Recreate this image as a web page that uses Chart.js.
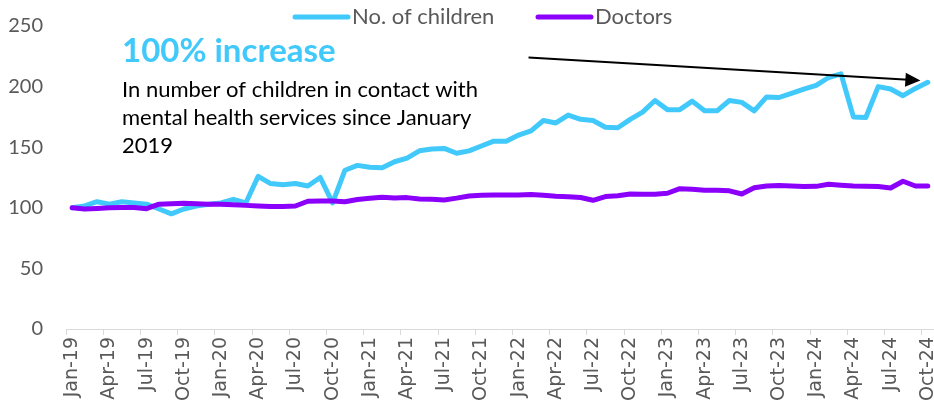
<!DOCTYPE html>
<html>
<head>
<meta charset="utf-8">
<script src="https://cdn.jsdelivr.net/npm/chart.js@4"></script>
<style>
  html, body { margin: 0; padding: 0; background: #fff; }
  #wrap { width: 934px; height: 411px; position: relative; }
</style>
</head>
<body>
<div id="wrap"><canvas id="lineChartCanvas"></canvas></div>
<script>
// months, Jan-19 .. Oct-24
var categories = [
  'Jan-19','Feb-19','Mar-19','Apr-19','May-19','Jun-19','Jul-19','Aug-19','Sep-19','Oct-19','Nov-19','Dec-19',
  'Jan-20','Feb-20','Mar-20','Apr-20','May-20','Jun-20','Jul-20','Aug-20','Sep-20','Oct-20','Nov-20','Dec-20',
  'Jan-21','Feb-21','Mar-21','Apr-21','May-21','Jun-21','Jul-21','Aug-21','Sep-21','Oct-21','Nov-21','Dec-21',
  'Jan-22','Feb-22','Mar-22','Apr-22','May-22','Jun-22','Jul-22','Aug-22','Sep-22','Oct-22','Nov-22','Dec-22',
  'Jan-23','Feb-23','Mar-23','Apr-23','May-23','Jun-23','Jul-23','Aug-23','Sep-23','Oct-23','Nov-23','Dec-23',
  'Jan-24','Feb-24','Mar-24','Apr-24','May-24','Jun-24','Jul-24','Aug-24','Sep-24','Oct-24'
];

// index, Jan-19 = 100
var children = [
  100, 101.5, 105, 103, 105, 104, 103, 99, 95, 99, 101.5, 103,
  104, 107, 104, 126, 120, 119, 120, 118, 125, 104, 131, 135,
  133.5, 133, 138, 141, 147, 148.5, 149, 145, 147, 151, 155, 155,
  160, 163.5, 172, 170, 176.5, 173, 172, 166.5, 166, 173, 179, 188.5,
  181, 181, 188, 180, 180, 188.5, 187, 180, 191.5, 191, 194.5, 198,
  201, 207.5, 210.5, 175, 174.5, 200, 198, 192.5, 198.5, 203.5
];
var doctors = [
  100, 99, 99.5, 100, 100.3, 100.3, 99.3, 103, 103.4, 103.7, 103.4, 103,
  103, 102.6, 102, 101.5, 101, 101, 101.5, 105.4, 105.7, 105.7, 105, 106.8,
  107.8, 108.7, 108, 108.4, 107.3, 107, 106.5, 108, 109.8, 110.3, 110.6, 110.6,
  110.6, 110.9, 110.3, 109.5, 109.2, 108.5, 106.2, 109.3, 110, 111.4, 111.2, 111.2,
  112, 115.8, 115.4, 114.5, 114.5, 114, 111.4, 116.6, 118, 118.3, 118, 117.5,
  117.7, 119.4, 118.6, 118, 117.7, 117.5, 116.4, 121.9, 118, 118
];
var yTicks = [0, 50, 100, 150, 200, 250];

var headline = '100% increase';
var noteLines = ['In number of children in contact with', 'mental health services since January', '2019'];
// arrow ends in data space (category index, value)
var arrowFrom = [36.8, 224];
var arrowTo = [68.4, 205];

var blue = '#41C9FB';
var purple = '#8B00FB';
var grey = '#595959';

// legend + text box + arrow
var extras = {
  id: 'extras',
  afterDraw: function (chart) {
    var ctx = chart.ctx;
    var xs = chart.scales.x, ys = chart.scales.y;
    ctx.save();

    // legend
    var legendX = [295, 538];
    ctx.font = '22px Lato';
    ctx.textBaseline = 'middle';
    chart.data.datasets.forEach(function (ds, i) {
      var lx = legendX[i];
      ctx.strokeStyle = ds.borderColor;
      ctx.lineWidth = 5;
      ctx.lineCap = 'round';
      ctx.beginPath();
      ctx.moveTo(lx, 17);
      ctx.lineTo(lx + 53, 17);
      ctx.stroke();
      ctx.fillStyle = grey;
      ctx.fillText(ds.label, lx + 57, 17);
    });

    // text box
    var tx = chart.chartArea.left + 56;
    ctx.textBaseline = 'alphabetic';
    ctx.fillStyle = blue;
    ctx.font = 'bold 33px Lato';
    ctx.fillText(headline, tx, 62);
    ctx.fillStyle = '#000';
    ctx.font = '22px Lato';
    noteLines.forEach(function (t, i) {
      ctx.fillText(t, tx, 97 + i * 28);
    });

    // arrow
    var x1 = xs.getPixelForValue(arrowFrom[0]), y1 = ys.getPixelForValue(arrowFrom[1]);
    var x2 = xs.getPixelForValue(arrowTo[0]), y2 = ys.getPixelForValue(arrowTo[1]);
    var ang = Math.atan2(y2 - y1, x2 - x1);
    ctx.strokeStyle = '#000';
    ctx.lineWidth = 2;
    ctx.lineCap = 'butt';
    ctx.beginPath();
    ctx.moveTo(x1, y1);
    ctx.lineTo(x2 - 12 * Math.cos(ang), y2 - 12 * Math.sin(ang));
    ctx.stroke();
    ctx.fillStyle = '#000';
    ctx.beginPath();
    ctx.moveTo(x2, y2);
    ctx.lineTo(x2 - 15 * Math.cos(ang) + 7 * Math.sin(ang), y2 - 15 * Math.sin(ang) - 7 * Math.cos(ang));
    ctx.lineTo(x2 - 15 * Math.cos(ang) - 7 * Math.sin(ang), y2 - 15 * Math.sin(ang) + 7 * Math.cos(ang));
    ctx.closePath();
    ctx.fill();
    ctx.restore();
  }
};

var ctx = document.getElementById('lineChartCanvas').getContext('2d');
var lineChart = new Chart(ctx, {
  type: 'line',
  data: {
    labels: categories,
    datasets: [{
      label: 'No. of children',
      data: children,
      borderColor: blue,
      backgroundColor: blue,
      borderWidth: 5,
      pointRadius: 0,
      tension: 0,
      borderJoinStyle: 'round',
      borderCapStyle: 'round',
      fill: false,
      order: 1
    }, {
      label: 'Doctors',
      data: doctors,
      borderColor: purple,
      backgroundColor: purple,
      borderWidth: 5,
      pointRadius: 0,
      tension: 0,
      borderJoinStyle: 'round',
      borderCapStyle: 'round',
      fill: false,
      order: 0
    }]
  },
  options: {
    responsive: true,
    maintainAspectRatio: false,
    animation: false,
    layout: { padding: { top: 26, right: 0, left: 0, bottom: 0 } },
    plugins: {
      legend: { display: false },
      tooltip: { enabled: false }
    },
    scales: {
      x: {
        type: 'category',
        offset: true,
        grid: {
          offset: true,
          drawOnChartArea: false,
          tickLength: 6,
          tickColor: function (c) { return c.index % 3 === 0 ? '#d9d9d9' : 'rgba(0,0,0,0)'; }
        },
        border: { display: true, color: '#d9d9d9', width: 1 },
        ticks: {
          autoSkip: false,
          maxRotation: 90,
          minRotation: 90,
          padding: 2,
          color: grey,
          font: { family: 'DejaVu Sans', size: 19 },
          callback: function (v, i) { return i % 3 === 0 ? categories[i] : ''; }
        },
        afterFit: function (s) { s.height = 82; s.paddingLeft = 0; s.paddingRight = 0; }
      },
      y: {
        min: 0,
        max: 250,
        afterBuildTicks: function (s) { s.ticks = yTicks.map(function (v) { return { value: v }; }); },
        grid: { display: false, drawTicks: false },
        border: { display: false },
        ticks: {
          padding: 23,
          color: grey,
          font: { family: 'Lato', size: 20 }
        },
        afterFit: function (s) { s.width = 66; s.paddingTop = 0; s.paddingBottom = 0; }
      }
    }
  },
  plugins: [extras]
});
</script>
</body>
</html>
